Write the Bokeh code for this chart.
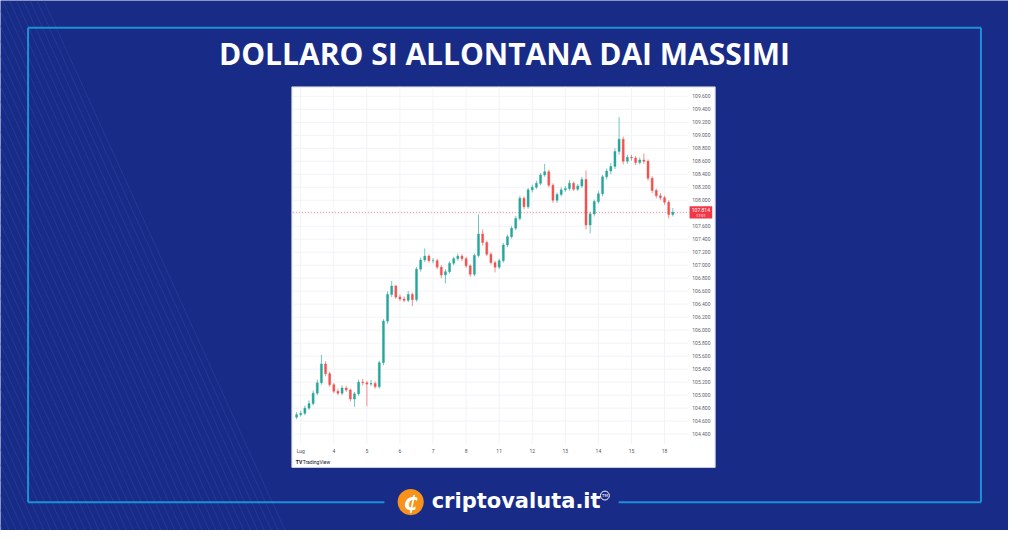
from bokeh.plotting import figure
from bokeh.models import Range1d, ColumnDataSource
from bokeh.core.properties import value
from bokeh.embed import file_html
from bokeh.resources import INLINE

# ---------------- data (US Dollar Index, 3h candles, July 2022) ----------------
day_labels = ["Lug", "4", "5", "6", "7", "8", "11", "12", "13", "14", "15", "18"]
bars_per_day = 8
bar_index = list(range(-1, 91))

opens = [104.66, 104.70, 104.72, 104.80, 104.87, 105.03, 105.19, 105.48, 105.33,
         105.16, 105.06, 105.03, 105.11, 105.08, 104.94, 105.02, 105.20,
         105.19, 105.17, 105.18, 105.13, 105.50, 106.14, 106.55, 106.68,
         106.51, 106.48, 106.46, 106.55, 106.47, 106.94, 107.08, 107.14,
         107.07, 107.07, 106.97, 106.85, 106.90, 107.03, 107.10, 107.14,
         107.10, 106.99, 106.86, 107.15, 107.48, 107.35, 107.17, 107.04,
         106.97, 107.07, 107.31, 107.44, 107.57, 107.72, 108.03, 107.90,
         108.16, 108.20, 108.26, 108.39, 108.44, 108.23, 108.00, 108.09,
         108.16, 108.18, 108.26, 108.17, 108.22, 108.32, 107.62, 107.79,
         107.98, 108.10, 108.36, 108.45, 108.52, 108.75, 108.94, 108.60,
         108.66, 108.65, 108.58, 108.62, 108.60, 108.34, 108.15, 108.07,
         108.04, 107.97, 107.78]
closes = [104.70, 104.72, 104.80, 104.87, 105.03, 105.19, 105.48, 105.33, 105.16,
          105.06, 105.03, 105.11, 105.08, 104.94, 105.02, 105.20, 105.19,
          105.17, 105.18, 105.13, 105.50, 106.14, 106.55, 106.68, 106.51,
          106.48, 106.46, 106.55, 106.47, 106.94, 107.08, 107.14, 107.07,
          107.07, 106.97, 106.85, 106.90, 107.03, 107.10, 107.14, 107.10,
          106.99, 106.86, 107.15, 107.48, 107.35, 107.17, 107.04, 106.97,
          107.07, 107.31, 107.44, 107.57, 107.72, 108.03, 107.90, 108.16,
          108.20, 108.26, 108.39, 108.44, 108.23, 108.00, 108.09, 108.16,
          108.18, 108.26, 108.17, 108.22, 108.32, 107.62, 107.79, 107.98,
          108.10, 108.36, 108.45, 108.52, 108.75, 108.94, 108.60, 108.66,
          108.65, 108.58, 108.62, 108.60, 108.34, 108.15, 108.07, 108.04,
          107.97, 107.78, 107.814]
highs = [104.74, 104.76, 104.84, 104.92, 105.07, 105.24, 105.62, 105.52, 105.36,
         105.19, 105.10, 105.15, 105.14, 105.10, 105.05, 105.24, 105.25,
         105.22, 105.23, 105.21, 105.53, 106.17, 106.60, 106.76, 106.70,
         106.55, 106.52, 106.60, 106.58, 106.97, 107.12, 107.26, 107.17,
         107.11, 107.10, 107.00, 106.94, 107.06, 107.13, 107.18, 107.17,
         107.13, 107.01, 107.18, 107.78, 107.55, 107.38, 107.20, 107.07,
         107.10, 107.34, 107.47, 107.60, 107.76, 108.07, 108.06, 108.19,
         108.24, 108.30, 108.42, 108.56, 108.47, 108.26, 108.12, 108.20,
         108.22, 108.31, 108.29, 108.25, 108.36, 108.46, 107.82, 108.01,
         108.14, 108.39, 108.49, 108.57, 108.80, 109.28, 108.98, 108.70,
         108.70, 108.68, 108.66, 108.72, 108.63, 108.37, 108.18, 108.11,
         108.07, 108.00, 107.88]
lows = [104.63, 104.67, 104.69, 104.77, 104.84, 105.00, 105.16, 105.29, 105.13,
        105.03, 105.00, 105.00, 105.05, 104.90, 104.82, 104.99, 105.15,
        104.83, 105.14, 105.10, 105.10, 105.46, 106.10, 106.51, 106.48,
        106.45, 106.43, 106.43, 106.37, 106.44, 106.90, 107.05, 107.04,
        107.03, 106.94, 106.80, 106.72, 106.87, 107.00, 107.07, 107.06,
        106.96, 106.82, 106.83, 107.12, 107.30, 107.14, 107.01, 106.89,
        106.94, 107.04, 107.28, 107.41, 107.54, 107.69, 107.86, 107.87,
        108.12, 108.17, 108.23, 108.36, 108.20, 107.96, 107.96, 108.06,
        108.13, 108.15, 108.14, 108.14, 108.19, 107.55, 107.49, 107.75,
        107.95, 108.06, 108.32, 108.40, 108.48, 108.70, 108.55, 108.56,
        108.61, 108.54, 108.55, 108.56, 108.30, 108.11, 108.03, 108.00,
        107.93, 107.72, 107.75]

price_ticks = [104.4, 104.6, 104.8, 105.0, 105.2, 105.4, 105.6, 105.8, 106.0,
               106.2, 106.4, 106.6, 106.8, 107.0, 107.2, 107.4, 107.6, 107.8,
               108.0, 108.2, 108.4, 108.6, 108.8, 109.0, 109.2, 109.4, 109.6]
last_price = 107.814
last_price_label = "107.814"
title_text = "DOLLARO SI ALLONTANA DAI MASSIMI"
brand_text = "criptovaluta.it"

# ---------------- styling / layout (reference pixel space 1024 x 546) ----------------
BG = "#182b87"
FRAME = "#1f8fd6"
UP, DOWN = "#26a69a", "#ef5350"
REF_W, REF_H = 1024, 546
W, H = 1008, 530

p = figure(width=W, height=H, output_backend="svg", toolbar_location=None,
           x_range=Range1d(0, REF_W), y_range=Range1d(REF_H, 0),
           x_axis_type=None, y_axis_type=None, min_border=0)
p.outline_line_color = None
p.background_fill_color = BG
p.border_fill_color = BG

# price scale: 109.6 at y=98.7, 104.4 at y=446.7 (reference pixels)
PX_PER_PRICE = (446.7 - 98.7) / (109.6 - 104.4)
p.extra_y_ranges = {"price": Range1d(109.6 - (REF_H - 98.7) / PX_PER_PRICE,
                                     109.6 + 98.7 / PX_PER_PRICE)}
# time scale: first day boundary at x=305, one day = 33.6 px
X0, BAR_PX = 305.0, 33.6 / bars_per_day
p.extra_x_ranges = {"t": Range1d(-X0 / BAR_PX, (REF_W - X0) / BAR_PX)}

# diagonal hatching on the left
hx = list(range(-250, 50, 7))
p.segment(x0=hx, y0=[0] * len(hx), x1=[x + 0.449 * REF_H for x in hx], y1=[REF_H] * len(hx),
          line_color="#2c47a6", line_alpha=0.55, line_width=1)

# outer frame
p.segment(x0=[28, 28, 996, 28, 628], y0=[28, 28, 28, 517, 517],
          x1=[996, 28, 996, 390, 996], y1=[28, 517, 517, 517, 517],
          line_color=FRAME, line_width=2)

# title
p.text(x=[512], y=[55], text=[title_text], text_font=value("Open Sans"),
       text_font_size=value("30px"), text_font_style="bold", text_color="white",
       text_align="center", text_baseline="middle")

# white chart panel
p.quad(left=[296], right=[726], top=[89], bottom=[481], fill_color="white",
       line_color="#d0d4e4", line_width=1)

# grid
day_pos = [k * bars_per_day for k in range(len(day_labels))]
p.segment(x0=day_pos, x1=day_pos, y0=[89] * len(day_pos), y1=[457] * len(day_pos),
          x_range_name="t", line_color="#f2f3f7", line_width=1)
p.segment(x0=[297] * len(price_ticks), x1=[698] * len(price_ticks),
          y0=price_ticks, y1=price_ticks, y_range_name="price",
          line_color="#f2f3f7", line_width=1)

# candles
src = ColumnDataSource(dict(
    t=bar_index, o=opens, h=highs, l=lows, c=closes,
    top=[max(a, b) for a, b in zip(opens, closes)],
    bottom=[min(a, b) for a, b in zip(opens, closes)],
    color=[UP if c >= o else DOWN for o, c in zip(opens, closes)],
))
p.segment(x0="t", x1="t", y0="l", y1="h", line_color="color", line_width=0.8,
          line_alpha=0.8, source=src, x_range_name="t", y_range_name="price")
p.vbar(x="t", width=0.5, top="top", bottom="bottom", fill_color="color",
       line_color="color", line_width=0.4, source=src,
       x_range_name="t", y_range_name="price")

# last price line
p.segment(x0=[297], x1=[700], y0=[last_price], y1=[last_price], y_range_name="price",
          line_color="#f23645", line_alpha=0.6, line_width=1, line_dash="1 2")

# price scale labels
p.text(x=[712] * len(price_ticks), y=price_ticks, text=["%.3f" % v for v in price_ticks],
       y_range_name="price", text_font=value("Roboto"), text_font_size=value("5px"),
       text_color="#5d606b", text_align="center", text_baseline="middle")

# last price box
p.quad(left=[700], right=[723], top=[last_price + 0.095], bottom=[last_price - 0.095],
       y_range_name="price", fill_color="#f23645", line_color=None)
p.text(x=[711.5], y=[last_price + 0.035], text=[last_price_label], y_range_name="price",
       text_font=value("Roboto"), text_font_size=value("5px"), text_color="white",
       text_align="center", text_baseline="middle")
p.text(x=[711.5], y=[last_price - 0.045], text=["17:01"], y_range_name="price",
       text_font=value("Roboto"), text_font_size=value("4px"), text_color="white",
       text_align="center", text_baseline="middle")

# time labels
p.text(x=day_pos, y=[464] * len(day_pos), text=day_labels, x_range_name="t",
       text_font=value("Roboto"), text_font_size=value("5px"), text_color="#50535e",
       text_align="center", text_baseline="middle")

# TradingView mark
p.text(x=[300], y=[475], text=["TV"], text_font=value("Roboto"), text_font_size=value("5px"),
       text_font_style="bold", text_color="#131722", text_align="left", text_baseline="middle")
p.text(x=[307], y=[475], text=["TradingView"], text_font=value("Roboto"),
       text_font_size=value("5px"), text_color="#131722", text_align="left",
       text_baseline="middle")

# brand logo
p.circle(x=[416.7], y=[516.7], radius=13.3, fill_color="#f7931a", line_color=None)
p.text(x=[416.7], y=[517.5], text=["\u20b5"], text_font=value("DejaVu Sans"),
       text_font_size=value("20px"), text_font_style="bold italic", text_color="white",
       text_align="center", text_baseline="middle")
p.text(x=[438], y=[516], text=[brand_text], text_font=value("DejaVu Sans"),
       text_font_size=value("21px"), text_font_style="bold", text_color="white",
       text_align="left", text_baseline="middle")
p.circle(x=[614], y=[510], radius=4.5, fill_color=None, line_color="white", line_width=1)
p.text(x=[614], y=[510], text=["TM"], text_font=value("DejaVu Sans"),
       text_font_size=value("4px"), text_color="white",
       text_align="center", text_baseline="middle")

open("out.html", "w").write(file_html(p, INLINE))
